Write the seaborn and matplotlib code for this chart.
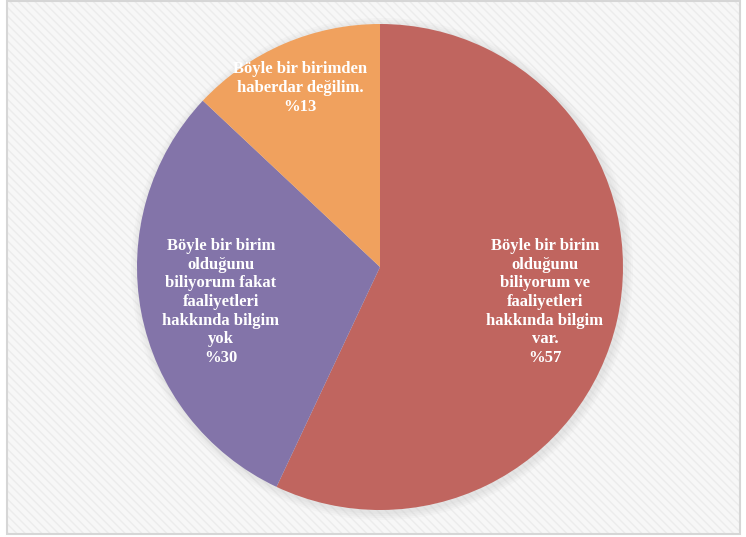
import matplotlib
matplotlib.use("Agg")
import matplotlib.pyplot as plt
import seaborn as sns
from matplotlib.patches import Rectangle, Circle

# slices, clockwise from 12 o'clock
labels = [
    "Böyle bir birim\nolduğunu\nbiliyorum ve\nfaaliyetleri\nhakkında bilgim\nvar.\n%57",
    "Böyle bir birim\nolduğunu\nbiliyorum fakat\nfaaliyetleri\nhakkında bilgim\nyok\n%30",
    "Böyle bir birimden\nhaberdar değilim.\n%13",
]
shares = [57, 30, 13]
colors = ["#C0655F", "#8374A9", "#F0A15E"]

sns.set_theme(style="white")
plt.rcParams["font.family"] = ["Liberation Serif", "DejaVu Serif"]
plt.rcParams["hatch.color"] = "#ECECEC"

W, H = 746, 537
fig = plt.figure(figsize=(W / 100, H / 100), dpi=100)
fig.patch.set_facecolor("white")
ax = fig.add_axes([0, 0, 1, 1])

# striped background panel with thin gray frame
ax.add_patch(Rectangle((7, 3), 733, 533, facecolor="#F7F7F7", edgecolor="none", zorder=0))
ax.add_patch(Rectangle((7, 3), 733, 533, facecolor="none", edgecolor="#ECECEC",
                       hatch="\\\\\\\\", linewidth=0, zorder=0.5))
ax.add_patch(Rectangle((7, 3), 733, 533, facecolor="none", edgecolor="#D6D6D6",
                       linewidth=1.5, zorder=0.6))

cx, cy, r = 380, H - 267, 243

# soft shadow
for i, a in enumerate([0.05, 0.05, 0.05, 0.06]):
    ax.add_patch(Circle((cx + 2, cy - 2), r + 8 - 2 * i, facecolor="#A0A0A0",
                        edgecolor="none", alpha=a, zorder=1))

wedges, _ = ax.pie(shares, colors=colors, startangle=90, counterclock=False,
                   center=(cx, cy), radius=r, frame=True,
                   wedgeprops=dict(linewidth=0))
for w in wedges:
    w.set_zorder(2)
ax.set_xlim(0, W)
ax.set_ylim(0, H)
ax.set_aspect("equal")
ax.axis("off")

pos = [(545, 302), (221, 302), (300, 88)]
for txt, (x, y) in zip(labels, pos):
    ax.text(x, H - y, txt, ha="center", va="center", multialignment="center",
            color="white", fontsize=12, fontweight="bold", linespacing=1.22, zorder=3)

fig.savefig("out.png", dpi=100)
